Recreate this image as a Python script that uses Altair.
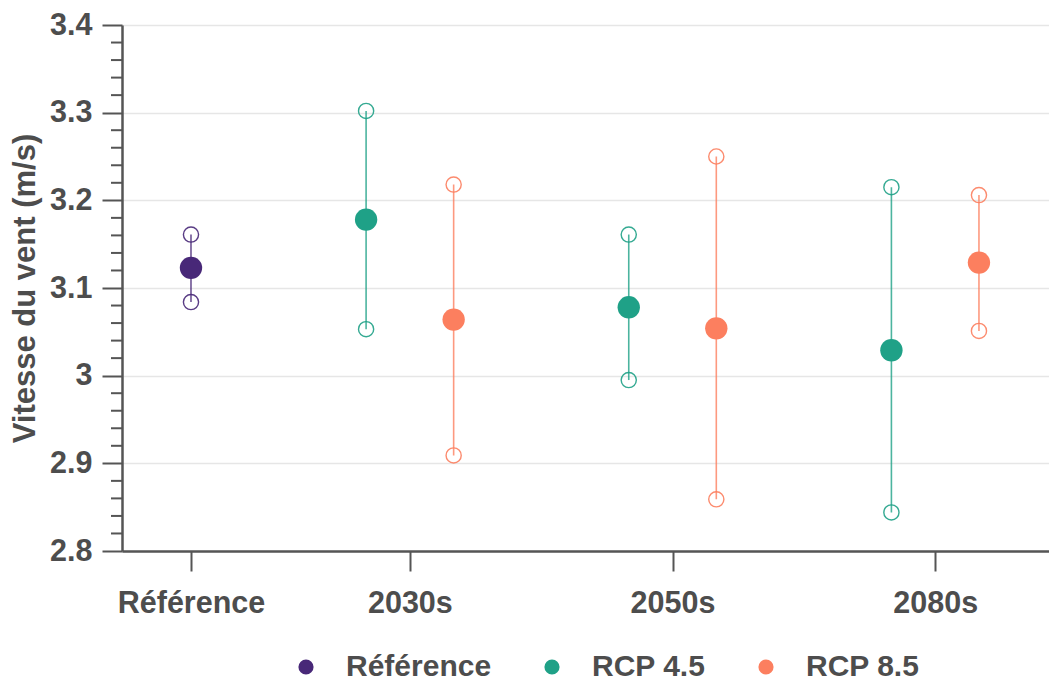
import altair as alt
import pandas as pd

# ---- data ----
periods = ["Référence", "2030s", "2050s", "2080s"]
series_names = ["Référence", "RCP 4.5", "RCP 8.5"]
series_colors = ["#482878", "#1fa187", "#fc7f5f"]

row_period = ["Référence", "2030s", "2030s", "2050s", "2050s", "2080s", "2080s"]
row_series = ["Référence", "RCP 4.5", "RCP 8.5", "RCP 4.5", "RCP 8.5", "RCP 4.5", "RCP 8.5"]
mean_vals = [3.123, 3.178, 3.064, 3.078, 3.054, 3.029, 3.129]
low_vals = [3.084, 3.053, 2.909, 2.995, 2.859, 2.844, 3.051]
high_vals = [3.161, 3.302, 3.218, 3.161, 3.250, 3.215, 3.206]

y_major = [2.8, 2.9, 3.0, 3.1, 3.2, 3.3, 3.4]
y_minor = [round(2.8 + 0.02 * i, 2) for i in range(31) if i % 5 != 0]

# ---- layout helpers (slot positions on the x axis) ----
def period_center(i):
    return 0.0 if i == 0 else 3 * i - 0.5

series_shift = {"Référence": 0.0, "RCP 4.5": -0.5, "RCP 8.5": 0.5}

df = pd.DataFrame({
    "period": row_period,
    "series": row_series,
    "mean": mean_vals,
    "low": low_vals,
    "high": high_vals,
})
df["xpos"] = [period_center(periods.index(p)) + series_shift[s]
              for p, s in zip(df["period"], df["series"])]

tick_vals = [period_center(i) for i in range(len(periods))]
label_expr = " : ".join(
    f"datum.value == {v} ? '{p}'" for v, p in zip(tick_vals, periods)
) + " : ''"

FONT = "Liberation Sans"
TXT = "#4d4d4d"
AX = "#555555"

x_scale = alt.Scale(domain=[-0.788, 9.80], nice=False, zero=False)
y_scale = alt.Scale(domain=[2.8, 3.4], nice=False, zero=False)

x_axis = alt.Axis(values=tick_vals, labelExpr=label_expr, title=None, grid=False,
                  tickSize=20, labelPadding=17, labelFontSize=30.5)
y_axis = alt.Axis(values=y_major, format="~g", title="Vitesse du vent (m/s)",
                  grid=True, tickSize=20, labelPadding=10, labelFontSize=30.5,
                  titleFontSize=31, titlePadding=8)

legend = alt.Legend(
    title=None, orient="none", direction="horizontal",
    legendX=169, legendY=627,
    symbolType="circle", symbolSize=230, symbolOpacity=1,
    symbolStrokeWidth=0,
    labelFontSize=30, labelFont=FONT, labelFontWeight="bold",
    labelColor=TXT, labelOffset=25, columnPadding=45,
)
color_enc = alt.Color("series:N", scale=alt.Scale(domain=series_names, range=series_colors),
                      legend=legend)

X = alt.X("xpos:Q", scale=x_scale, axis=x_axis)

minor = alt.Chart(pd.DataFrame({"v": y_minor})).mark_rule(
    color=AX, strokeWidth=2
).encode(
    y=alt.Y("v:Q", scale=y_scale, axis=y_axis),
    x=alt.value(-11),
    x2=alt.value(0),
)

base = alt.Chart(df)

rules = base.mark_rule(strokeWidth=1.6, opacity=0.8).encode(
    x=X,
    y=alt.Y("low:Q", scale=y_scale, axis=y_axis),
    y2="high:Q",
    color=color_enc,
)

bounds = base.transform_fold(["low", "high"], as_=["bound", "v"]).mark_point(
    shape="circle", filled=False, size=230, strokeWidth=1.4, opacity=0.9
).encode(
    x=X,
    y=alt.Y("v:Q", scale=y_scale, axis=y_axis),
    color=color_enc,
)

means = base.mark_circle(size=500, opacity=1).encode(
    x=X,
    y=alt.Y("mean:Q", scale=y_scale, axis=y_axis),
    color=color_enc,
)

chart = alt.layer(minor, rules, bounds, means).properties(
    width=927,
    height=526,
    padding={"left": 114, "top": 17, "right": 0, "bottom": 134},
    autosize=alt.AutoSizeParams(type="none"),
).configure_axis(
    labelFont=FONT, labelFontWeight="bold", labelColor=TXT,
    titleFont=FONT, titleFontWeight="bold", titleColor=TXT,
    domainColor=AX, domainWidth=2.5, tickColor=AX, tickWidth=2,
    gridColor="#e6e6e6", gridWidth=1.6,
).configure_view(stroke=None)

chart.save("out.html", embed_options={"renderer": "svg", "actions": False})
